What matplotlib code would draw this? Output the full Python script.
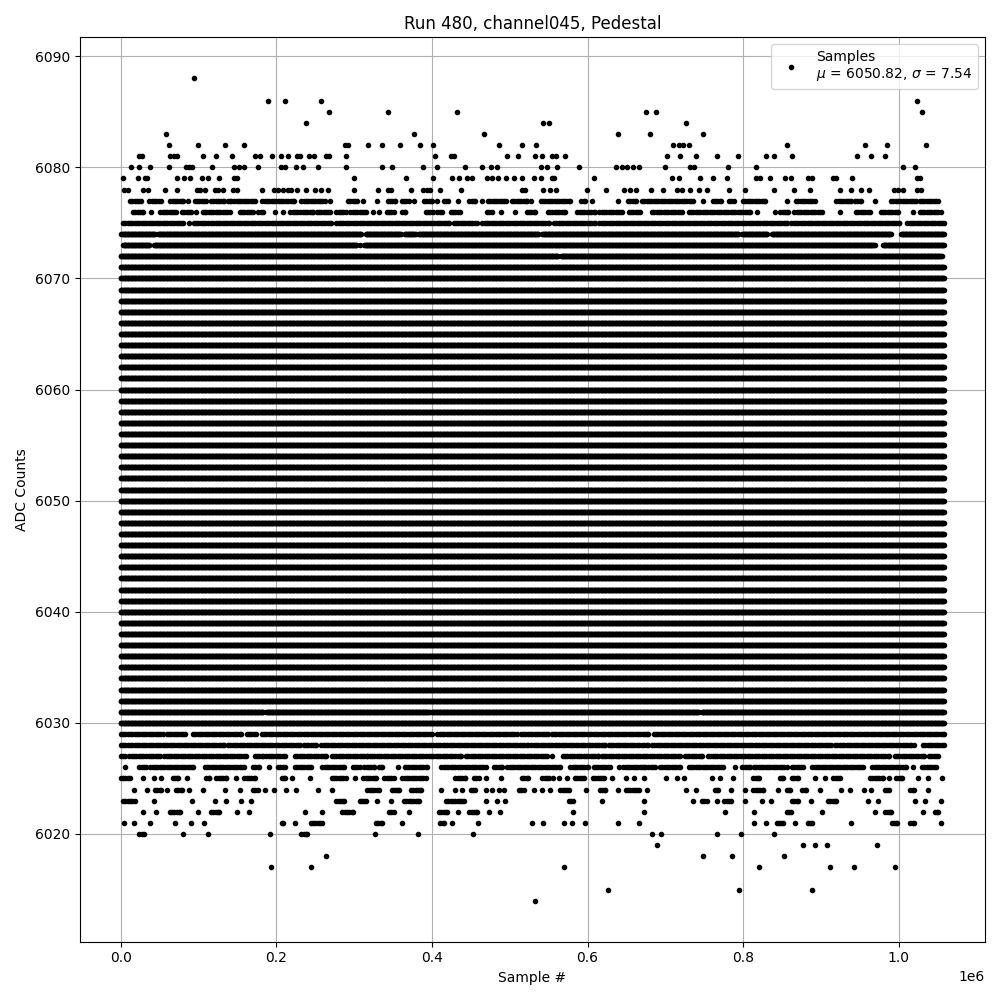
import numpy as np
import matplotlib
matplotlib.use("Agg")
import matplotlib.pyplot as plt

# ---------------- data (x in thousands of samples) ----------------
# levels that are filled across the whole run
full_levels = list(range(6032, 6072)) + [6030]
full_range = (0, 1058)

# partially filled / sparse levels: single samples (k) or (start_k, end_k) runs
r6088 = [94]
r6086 = [189, 211, 258, 1024]
r6085 = [268, 344, 432, 675, 688, 1030]
r6084 = [238, 543, 551, 727]
r6083 = [58, 377, 467, 639, 680, 749]
r6082 = [62, 99, 134, 158, 288, 292, 318, 336, 359, 385, 402, 486, 516, 534,
         710, 717, 723, 730, 856, 957, 985, 1035]
r6081 = [24, 28, 64, 68, 73, 106, 122, 143, 173, 179, 194, 206, 215, 226, 230,
         242, 249, 264, 268, 290, 404, 425, 429, 497, 511, 533, 542, 554, 560,
         571, 702, 719, 740, 767, 794, 830, 840, 863, 947, 965, 983]
r6080 = [13, 24, 38, 62, 84, 88, 92, 117, 145, 152, 158, 177, 206, 211, 225,
         234, 253, 290, 336, 349, 389, 406, 443, 465, 476, 484, 540, 548, 561,
         589, 636, 644, 651, 658, 666, 699, 732, 737, 780, 817, 1006, 1021]
r6079 = [3, 22, 31, 34, 72, 82, 89, 104, 112, 127, 146, 149, 300, 367, 402,
         426, 435, 445, 452, 471, 477, 485, 495, 506, 516, 531, 540, 554, 557,
         608, 708, 717, 745, 761, 779, 816, 822, 835, 854, 862, 883, 889, 916,
         920, 940, 1024, 1027]
r6078 = [4, 9, 29, 35, 57, 73, 98, 102, 109, 121, 125, 132, 144, 150, 182, 197,
         202, 208, 215, 219, 227, 238, 250, 258, 266, 300, 331, 343, 347, 373,
         389, 394, 398, 411, 438, 516, 520, 543, 552, 560, 599, 624, 647, 654,
         662, 681, 697, 715, 721, 732, 743, 754, 782, 802, 840, 866, 886, 925,
         939, 952, 962, 994, 999, 1006, 1024, 1029]
r6077 = [(12, 26), (37, 52), (64, 80), 86, (95, 110), (116, 133), (138, 142),
         (146, 172), (182, 215), (219, 223), (232, 262), 269, (292, 304), 311,
         329, (343, 353), (361, 370), 377, (390, 400), 407, (415, 421), 434,
         (448, 456), 465, (472, 495), (503, 522), 528, (540, 578), (592, 597),
         606, 639, (652, 662), (670, 736), 748, (761, 772), (782, 788),
         (800, 828), 857, (868, 892), (920, 939), (944, 952), 969, (990, 1022),
         (1027, 1050)]
r6076 = [(16, 29), 39, (51, 71), (79, 91), 97, (106, 110), (113, 140),
         (153, 170), (177, 183), 198, 208, (218, 230), (234, 247), (252, 269),
         (277, 289), (295, 315), 324, 332, (342, 351), (362, 366), (392, 401),
         (407, 413), (424, 436), (471, 477), 489, 507, (522, 533), (549, 571),
         (587, 610), (615, 644), (653, 668), (683, 721), (730, 809), 818, 841,
         (848, 858), (866, 901), 925, (945, 963), (977, 999), 1018, (1027, 1054)]
r6075 = [(3, 80), 88, (94, 112), (116, 270), (277, 422), (428, 458), (465, 550),
         (557, 610), (615, 798), (801, 856), (862, 1001), (1011, 1058)]
r6074 = [(1, 44), (48, 309), (315, 360), (365, 379), (383, 537), (542, 794),
         (799, 831), (837, 990), (1003, 1058)]
r6073 = [(3, 37), (43, 303), 307, (313, 969), (980, 1058)]
r6072 = [(0, 562), (566, 1055)]
r6031 = [(0, 183), (187, 397), (400, 743), (747, 1058)]
r6029 = [(0, 54), (59, 83), (93, 154), (162, 174), (181, 400), (407, 509),
         (514, 549), (554, 678), (685, 1058)]
r6028 = [(0, 133), (138, 158), (162, 230), (235, 251), (258, 524), (528, 623),
         (627, 666), (670, 678), (683, 913), (918, 1016), 1020, (1031, 1058)]
r6027 = [(0, 6), (11, 32), (36, 50), (56, 161), (172, 183), (187, 211),
         (224, 264), (271, 317), (320, 392), (396, 426), (430, 438), (444, 509),
         (513, 548), 555, (568, 614), (618, 640), (644, 719), (725, 747),
         (755, 988), (995, 1033), (1039, 1050)]
r6026 = [5, (24, 32), (38, 93), (108, 159), (170, 178), 191, (202, 211),
         (224, 245), (259, 287), (298, 307), (313, 326), (332, 336), 356,
         (365, 394), (412, 469), (480, 490), (497, 565), (578, 601), (608, 629),
         640, (646, 674), (678, 687), (693, 719), (730, 774), 789, (799, 809),
         (814, 856), (863, 877), (889, 954), (966, 1010), 1019, (1030, 1048)]
r6025 = [(0, 12), 29, 43, 52, (67, 74), 85, (110, 114), (123, 136), 148,
         (159, 173), (207, 211), 220, 243, (271, 289), 301, (312, 328),
         (339, 351), (362, 392), (430, 443), (454, 460), 469, 489, (516, 524),
         (542, 550), 556, 564, 574, (584, 595), (607, 621), 631, 649, 660, 672,
         701, 715, 724, 760, 770, 787, (813, 821), (847, 851), (863, 871), 893,
         905, (916, 924), (963, 980), 987, (997, 1004), 1025, 1038, 1056]
r6024 = [17, 34, (44, 52), 59, (71, 79), 88, 106, 134, 153, (170, 176), 186,
         197, 213, 225, 253, 271, (317, 332), 349, (351, 358), (373, 386), 412,
         430, 439, (450, 456), 469, 477, 486, 493, (512, 518), 531, 542, 552,
         (565, 576), 598, (616, 623), 639, (649, 666), 677, 726, 739, (764, 768),
         784, 802, (813, 826), 845, (856, 860), (876, 881), 899, 926, 937, 955,
         964, (982, 988), (1015, 1020), 1038]
r6023 = [(3, 18), 43, 92, 121, 136, 155, 168, (277, 287), (307, 315), 330, 347,
         (364, 383), (418, 441), 469, 484, 494, (576, 582), 619, 672, 736,
         (747, 753), 767, (776, 785), 802, 824, 836, (863, 871), 887, (909, 919),
         960, 974, 1021, 1034, 1054]
r6022 = [29, 46, (63, 76), 100, (116, 127), 149, 165, 237, 259, (285, 298),
         (345, 351), 371, (409, 420), 433, (448, 458), 474, 488, 581, 672, 777,
         814, (856, 862), 901, 970, (983, 990), 1031, (1046, 1051)]
r6021 = [4, 17, 38, 70, 90, 107, (207, 209), 224, (244, 259), (328, 336), 362,
         (411, 415), 426, 459, 529, 543, 570, 580, 597, 639, 666, 814, 830,
         (843, 851), 867, (883, 889), 939, (991, 998), (1015, 1020), 1054]
r6020 = [(24, 30), 80, 112, 192, (232, 240), 327, 382, 453, 683, 695, 767, 797,
         840]
r6019 = [689, 877, 892, 908, 972]
r6018 = [264, 748, 786, 853]
r6017 = [193, 245, 570, 820, 912, 943, 995]
r6015 = [626, 795, 889]
r6014 = [533]

mean_adc = 6050.82
sigma_adc = 7.54
run_number = 480
channel = "channel045"

partial_rows = {
    6088: r6088, 6086: r6086, 6085: r6085, 6084: r6084, 6083: r6083,
    6082: r6082, 6081: r6081, 6080: r6080, 6079: r6079, 6078: r6078,
    6077: r6077, 6076: r6076, 6075: r6075, 6074: r6074, 6073: r6073,
    6072: r6072, 6031: r6031, 6029: r6029, 6028: r6028, 6027: r6027,
    6026: r6026, 6025: r6025, 6024: r6024, 6023: r6023, 6022: r6022,
    6021: r6021, 6020: r6020, 6019: r6019, 6018: r6018, 6017: r6017,
    6015: r6015, 6014: r6014,
}

FULL_STEP = 1.0     # thousand samples between drawn samples in filled levels
PARTIAL_STEP = 3.0  # sparser sampling inside runs of partial levels


def expand(entries, step):
    xs = []
    for e in entries:
        if isinstance(e, tuple):
            a, b = e
            pts = np.arange(a, b + 1e-9, step)
            if pts[-1] < b:
                pts = np.append(pts, b)
            xs.append(pts)
        else:
            xs.append(np.array([e], dtype=float))
    return np.concatenate(xs) if xs else np.array([])


xs_all, ys_all = [], []
for lvl in full_levels:
    xk = expand([full_range], FULL_STEP)
    xs_all.append(xk * 1000.0)
    ys_all.append(np.full(xk.shape, lvl, dtype=float))
for lvl, entries in partial_rows.items():
    step = FULL_STEP if lvl in (6072, 6031, 6073, 6074) else PARTIAL_STEP
    xk = expand(entries, step)
    xs_all.append(xk * 1000.0)
    ys_all.append(np.full(xk.shape, lvl, dtype=float))
x = np.concatenate(xs_all)
y = np.concatenate(ys_all)

# ---------------- plot ----------------
fig, ax = plt.subplots(figsize=(10, 10), dpi=100)
ax.plot(x, y, '.', color='black',
        label=f"Samples\n$\\mu$ = {mean_adc:.2f}, $\\sigma$ = {sigma_adc:.2f}")
ax.set_title(f"Run {run_number}, {channel}, Pedestal")
ax.set_xlabel("Sample #")
ax.set_ylabel("ADC Counts")
ax.grid(True)
ax.legend(loc="upper right")
fig.tight_layout()
fig.savefig("out.png", dpi=100)
